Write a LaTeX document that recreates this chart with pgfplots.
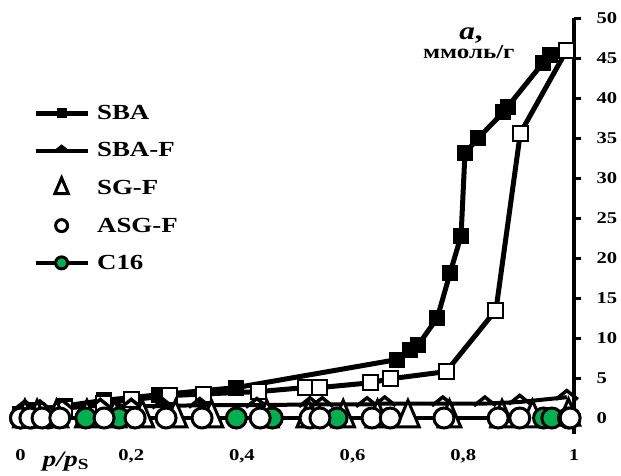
\documentclass[border=0pt]{standalone}
\usepackage{pgfplots}
\pgfplotsset{compat=1.18}
\usepackage{fontspec}
\setmainfont[FakeStretch=1.25]{Liberation Serif}
\definecolor{cgreen}{RGB}{0,176,80}
\pgfdeclareplotmark{chev}{%
  \pgfpathmoveto{\pgfqpoint{-\pgfplotmarksize}{-0.2\pgfplotmarksize}}%
  \pgfpathlineto{\pgfqpoint{0pt}{0.6\pgfplotmarksize}}%
  \pgfpathlineto{\pgfqpoint{\pgfplotmarksize}{-0.2\pgfplotmarksize}}%
  \pgfusepathqstroke}
\begin{document}
\begin{tikzpicture}
\begin{axis}[
  scale only axis, width=553.5pt, height=416pt,
  xmin=0, xmax=1, ymin=-2, ymax=50,
  axis y line*=right, axis x line*=bottom,
  x axis line style={draw=none},
  y axis line style={line width=3.5pt},
  xtick={0,0.2,0.4,0.6,0.8,1},
  xticklabels={0,{0,2},{0,4},{0,6},{0,8},1},
  major x tick style={draw=none},
  ytick={0,5,...,50},
  major y tick style={line width=3pt, black},
  tick align=outside, major tick length=7pt,
  ticklabel style={font=\bfseries\fontsize{16.5}{18}\selectfont},
  /pgf/number format/assume math mode=true,
  yticklabel style={xshift=12pt},
  xticklabel style={yshift=-5pt},
  clip=false,
  legend cell align=left,
  legend style={draw=none, fill=none, at={(rel axis cs:0.017,0.80)}, anchor=north west,
    font=\bfseries\fontsize{21.5}{24}\selectfont, row sep=17.5pt, column sep=5pt},
  legend image code/.code={\draw[mark repeat=2,mark phase=2,every mark/.append style={scale=0.6}]
    plot coordinates {(0pt,0pt)(26pt,0pt)(52pt,0pt)};},
]
\coordinate (O) at (rel axis cs:0,0);
% SBA desorption (filled)
\addplot[line width=5pt, mark=square*, mark size=7.5pt, mark options={line width=1pt, fill=black}] coordinates {
 (0.0,0.5) (0.03,1.0) (0.08,1.5) (0.15,2.2) (0.25,2.9) (0.39,3.8) (0.68,7.3) (0.704,8.5)
 (0.718,9.1) (0.753,12.5) (0.776,18.1) (0.796,22.8) (0.803,33.1) (0.827,35.0) (0.872,38.2)
 (0.88,38.9) (0.944,44.4) (0.957,45.4) (0.987,46.0)};
\addlegendentry{SBA}
% SBA adsorption (open)
\addplot[forget plot, line width=5pt, mark=square*, mark size=7.5pt, mark options={fill=white, line width=2pt}] coordinates {
 (0.0,0.5) (0.03,0.8) (0.08,1.2) (0.15,1.8) (0.20,2.3) (0.27,2.8) (0.33,3.0) (0.43,3.3)
 (0.514,3.8) (0.54,3.8) (0.632,4.4) (0.668,4.9) (0.769,5.8) (0.859,13.5) (0.903,35.6) (0.987,46.0)};
% SBA-F
\addplot[line width=4pt, mark=chev, mark size=11pt, mark options={line width=3.5pt}] coordinates {
 (0.008,1.3) (0.035,1.3) (0.075,1.4) (0.144,1.5) (0.20,1.5) (0.258,1.5) (0.324,1.6) (0.427,1.6)
 (0.523,1.7) (0.545,1.7) (0.626,1.7) (0.658,1.8) (0.763,1.8) (0.839,1.8) (0.902,2.0) (0.987,2.6)};
\addlegendentry{SBA-F}
% SG-F
\addplot[only marks, mark=triangle*, mark size=13pt, mark options={fill=white, draw=black, line width=3pt, yscale=1.35}] coordinates {
 (0.008,0.0) (0.03,0.0) (0.065,0.0) (0.12,0.0) (0.17,0.0) (0.22,0.0) (0.28,0.0) (0.345,0.0)
 (0.445,0.0) (0.52,0.0) (0.583,0.0) (0.645,0.0) (0.70,0.0) (0.775,0.0) (0.87,0.0) (0.925,0.0) (0.99,0.2)};
\addlegendentry{SG-F}
% C16
\addplot[forget plot, line width=4pt, mark=*, mark size=10pt, mark options={fill=cgreen, line width=3pt}] coordinates {
 (0.0,0.0) (0.02,0.0) (0.05,0.0) (0.118,0.0) (0.178,0.0) (0.39,0.0) (0.455,0.0) (0.572,0.0)
 (0.945,0.0) (0.96,0.0) (0.99,0.0)};
% ASG-F
\addplot[only marks, mark=*, mark size=10pt, mark options={fill=white, line width=3pt}] coordinates {
 (0.0,0.0) (0.017,0.0) (0.039,0.0) (0.071,0.0) (0.151,0.0) (0.207,0.0) (0.263,0.0) (0.328,0.0)
 (0.433,0.0) (0.523,0.0) (0.541,0.0) (0.635,0.0) (0.668,0.0) (0.765,0.0) (0.863,0.0) (0.902,0.0) (0.993,0.0)};
\addlegendentry{ASG-F}
\addlegendimage{line width=4pt, mark=*, mark size=10pt, mark options={fill=cgreen, line width=3pt}}
\addlegendentry{C16}
\node[anchor=base, font=\bfseries\itshape\fontsize{25}{27}\selectfont] at (axis cs:0.814,47.3) {a\upshape,};
\node[anchor=base, font=\bfseries\fontsize{20}{22}\selectfont] at (axis cs:0.81,44.9) {ммоль/г};
\node[anchor=base, font=\bfseries\itshape\fontsize{22}{24}\selectfont] at (axis cs:0.082,-6.1) {p/p\textsubscript{\upshape S}};
\end{axis}
\pgfresetboundingbox
\path (O) ++(-20.5pt,-41pt) rectangle ++(621pt,475pt);
\end{tikzpicture}
\end{document}
